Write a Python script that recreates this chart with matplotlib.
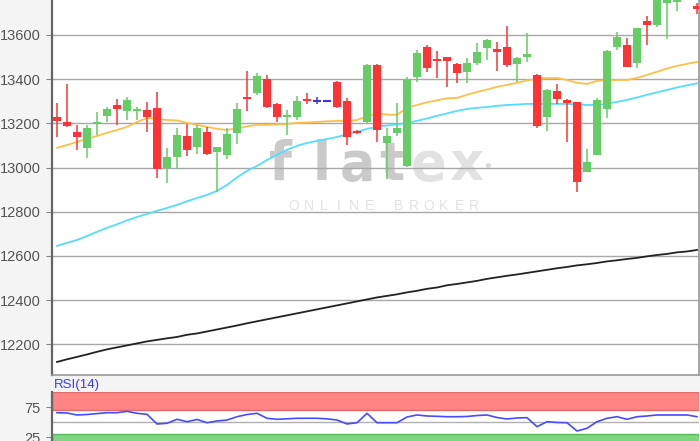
import numpy as np
import matplotlib
matplotlib.use("Agg")
import matplotlib.pyplot as plt

plt.rcParams['font.family'] = ['Liberation Sans', 'DejaVu Sans']

# ---------------- data ----------------
opens = [13230, 13208, 13162, 13087, 13196, 13233, 13283, 13257, 13257, 13261,
         13271, 12997, 13047, 13143, 13092, 13162, 13072, 13057, 13158, 13318,
         13339, 13401, 13286, 13230, 13230, 13312, 13301, 13301, 13389, 13301,
         13164, 13208, 13464, 13110, 13158, 13007, 13411, 13547, 13490, 13499,
         13467, 13434, 13472, 13540, 13535, 13547, 13469, 13499, 13419, 13228,
         13348, 13306, 13295, 12981, 13057, 13264, 13544, 13555, 13475, 13665,
         13645, 13743, 13750, 13775, 13729]
highs = [13292, 13378, 13193, 13193, 13250, 13276, 13309, 13321, 13273, 13295,
         13343, 13090, 13178, 13197, 13193, 13185, 13095, 13178, 13291, 13437,
         13427, 13419, 13294, 13261, 13324, 13336, 13318, 13301, 13392, 13314,
         13170, 13467, 13467, 13178, 13291, 13409, 13532, 13555, 13529, 13502,
         13475, 13495, 13562, 13581, 13570, 13642, 13499, 13608, 13421, 13354,
         13378, 13309, 13298, 13084, 13314, 13532, 13612, 13585, 13632, 13686,
         13800, 13800, 13800, 13820, 13745]
lows = [13140, 13185, 13080, 13045, 13148, 13208, 13193, 13215, 13215, 13162,
        12952, 12929, 12992, 13052, 13062, 13057, 12891, 13039, 13107, 13257,
        13329, 13268, 13208, 13148, 13215, 13288, 13288, 13301, 13270, 13102,
        13150, 13200, 13117, 12947, 13143, 13004, 13389, 13434, 13404, 13363,
        13384, 13381, 13464, 13487, 13437, 13457, 13386, 13479, 13181, 13163,
        13289, 13117, 12888, 12980, 13055, 13223, 13532, 13455, 13452, 13555,
        13638, 13580, 13709, 13762, 13695]
closes = [13211, 13188, 13140, 13178, 13208, 13265, 13264, 13306, 13264, 13230,
          12992, 13049, 13148, 13080, 13180, 13060, 13092, 13151, 13265, 13310,
          13416, 13276, 13230, 13238, 13301, 13300, 13301, 13301, 13276, 13140,
          13157, 13464, 13170, 13143, 13178, 13400, 13517, 13449, 13482, 13482,
          13427, 13472, 13524, 13577, 13522, 13464, 13495, 13513, 13190, 13351,
          13309, 13294, 12933, 13025, 13306, 13529, 13590, 13457, 13630, 13645,
          13790, 13790, 13785, 13800, 13716]

ma_orange = [13089, 13102, 13116, 13129, 13143, 13157, 13170, 13184, 13206, 13224,
             13220, 13215, 13213, 13202, 13193, 13184, 13175, 13170, 13177, 13186,
             13193, 13193, 13195, 13197, 13202, 13204, 13206, 13209, 13211, 13211,
             13215, 13231, 13243, 13240, 13238, 13270, 13283, 13295, 13304, 13313,
             13315, 13329, 13342, 13353, 13365, 13374, 13383, 13394, 13401, 13405,
             13405, 13396, 13383, 13378, 13392, 13394, 13396, 13396, 13405, 13419,
             13433, 13448, 13460, 13469, 13478]
ma_cyan = [12645, 12659, 12672, 12690, 12709, 12727, 12743, 12761, 12776, 12790,
           12804, 12817, 12831, 12847, 12862, 12876, 12894, 12921, 12955, 12985,
           13007, 13034, 13057, 13080, 13098, 13111, 13120, 13129, 13138, 13150,
           13161, 13175, 13184, 13190, 13195, 13202, 13211, 13222, 13234, 13245,
           13256, 13265, 13270, 13274, 13279, 13283, 13285, 13288, 13288, 13288,
           13288, 13288, 13285, 13283, 13283, 13288, 13297, 13306, 13317, 13329,
           13340, 13351, 13362, 13372, 13381]
ma_black = [12120, 12132, 12143, 12154, 12166, 12177, 12186, 12195, 12204, 12213,
            12220, 12227, 12233, 12243, 12249, 12258, 12267, 12276, 12285, 12295,
            12304, 12313, 12322, 12331, 12340, 12349, 12358, 12367, 12376, 12385,
            12394, 12403, 12412, 12419, 12426, 12435, 12442, 12451, 12457, 12467,
            12473, 12480, 12487, 12496, 12503, 12510, 12516, 12523, 12530, 12537,
            12544, 12550, 12557, 12562, 12568, 12575, 12580, 12586, 12591, 12598,
            12604, 12609, 12616, 12620, 12627]
rsi = [65.5, 65, 61.7, 62.5, 64, 65.5, 65.5, 67.8, 64.5, 62.8,
       46.7, 47.8, 54.5, 50.5, 54.2, 48.8, 51.7, 53.3, 58.8, 62.5,
       64.5, 56.2, 54.5, 55.3, 56.2, 56.2, 56.2, 55.3, 53.3, 46.7,
       48.8, 64.5, 48.8, 48.8, 48.8, 58.3, 61.7, 60, 59.5, 58.8,
       58.8, 59.2, 60.8, 61.7, 57.5, 55, 56.7, 57.2, 42.2, 50.5,
       49.2, 48.8, 35, 39.5, 50.5, 56.2, 58.8, 54.5, 58.8, 60,
       61.7, 61.7, 61.7, 61.7, 58.8]

price_ticks = [12200, 12400, 12600, 12800, 13000, 13200, 13400, 13600]
rsi_ticks = [25, 75]

# ---------------- figure ----------------
fig = plt.figure(figsize=(7, 4.41), dpi=100, facecolor='#f4f4f4')
W, H = 700.0, 441.0
ax = fig.add_axes([52 / W, 1 - 375 / H, 647 / W, 375 / H + 0.01])
ax.set_facecolor('white')

x = np.arange(len(opens))
o = np.array(opens); h = np.array(highs); l = np.array(lows); c = np.array(closes)
up = c > o
down = c < o
flat = c == o
green, red, blue = '#66cc66', '#ff3333', '#4433dd'

ax.vlines(x[up], l[up], h[up], color=green, lw=1.1, zorder=3)
ax.vlines(x[down], l[down], h[down], color=red, lw=1.1, zorder=3)
ax.vlines(x[flat], l[flat], h[flat], color=blue, lw=1.1, zorder=3)
ax.bar(x[up], (c - o)[up], bottom=o[up], width=0.72, color=green, zorder=4)
ax.bar(x[down], (o - c)[down], bottom=c[down], width=0.72, color=red, zorder=4)
ax.hlines(o[flat], x[flat] - 0.36, x[flat] + 0.36, color=blue, lw=1.5, zorder=4)

ax.plot(x, ma_orange, color='#ffc04a', lw=1.3, zorder=2)
ax.plot(x, ma_cyan, color='#55dcff', lw=1.3, zorder=2)
ax.plot(x, ma_black, color='#222222', lw=1.3, zorder=2)

ax.set_xlim(-0.5, 64.2)
ax.set_ylim(12061, 13758 + 0.01 * H * 4.525)
ax.set_yticks(price_ticks)
ax.set_xticks([])
ax.grid(axis='y', color='#a8a8a8', lw=1)
ax.set_axisbelow(True)
ax.tick_params(axis='y', colors='#888888', labelcolor='#555555', labelsize=10.5, length=4, pad=4)
ax.spines['top'].set_visible(False)
ax.spines['left'].set_color('#666666')
ax.spines['left'].set_linewidth(1.6)
for s in ['bottom', 'right']:
    ax.spines[s].set_color('#999999')
    ax.spines[s].set_linewidth(1.2)

# watermark, behind the candles
wm_y = 1 - 165 / H
for ch, cx, col in [('f', 280, '#cacaca'), ('l', 322, '#cacaca'), ('a', 357, '#cacaca'),
                    ('t', 392, '#cacaca'), ('e', 429, '#e2e2e2'), ('x', 466, '#e2e2e2')]:
    ax.text(cx / W, wm_y, ch, color=col, fontsize=38, fontweight='bold',
            family='DejaVu Sans', ha='center', va='center', zorder=0.3,
            transform=fig.transFigure)
ax.text(488 / W, 1 - 168 / H, '•', color='#d8d8d8', fontsize=14, ha='center', va='center',
        zorder=0.3, transform=fig.transFigure)
broker = 'ONLINE BROKER'
for k, ch in enumerate(broker):
    ax.text((294 + 15 * k) / W, 1 - 206 / H, ch, color='#e2e2e2', fontsize=10,
            ha='center', va='center', zorder=0.3, transform=fig.transFigure)

# RSI panel
rx = fig.add_axes([52 / W, 1 - 452 / H, 647 / W, 60 / H])
rx.set_facecolor('white')
rx.axhspan(70, 100, facecolor='#ff8585', edgecolor='#e36b6b', lw=1)
rx.axhspan(0, 30, facecolor='#7ed67e', edgecolor='#5cb85c', lw=1)
rx.axhline(50, color='#b0b0b0', lw=1)
rx.plot(x, rsi, color='#4a4aff', lw=1.2)
rx.set_xlim(-0.5, 64.2)
rx.set_ylim(0, 100)
rx.set_yticks(rsi_ticks)
rx.set_xticks([])
rx.tick_params(axis='y', colors='#888888', labelcolor='#555555', labelsize=10.5, length=4, pad=4)
rx.spines['left'].set_color('#666666')
rx.spines['left'].set_linewidth(1.6)
for s in ['top', 'bottom', 'right']:
    rx.spines[s].set_visible(False)
fig.text(54 / W, 1 - 385 / H, 'RSI(14)', color='#3a3aff', fontsize=9.5, ha='left', va='center')

fig.savefig('out.png', dpi=100, facecolor=fig.get_facecolor())
